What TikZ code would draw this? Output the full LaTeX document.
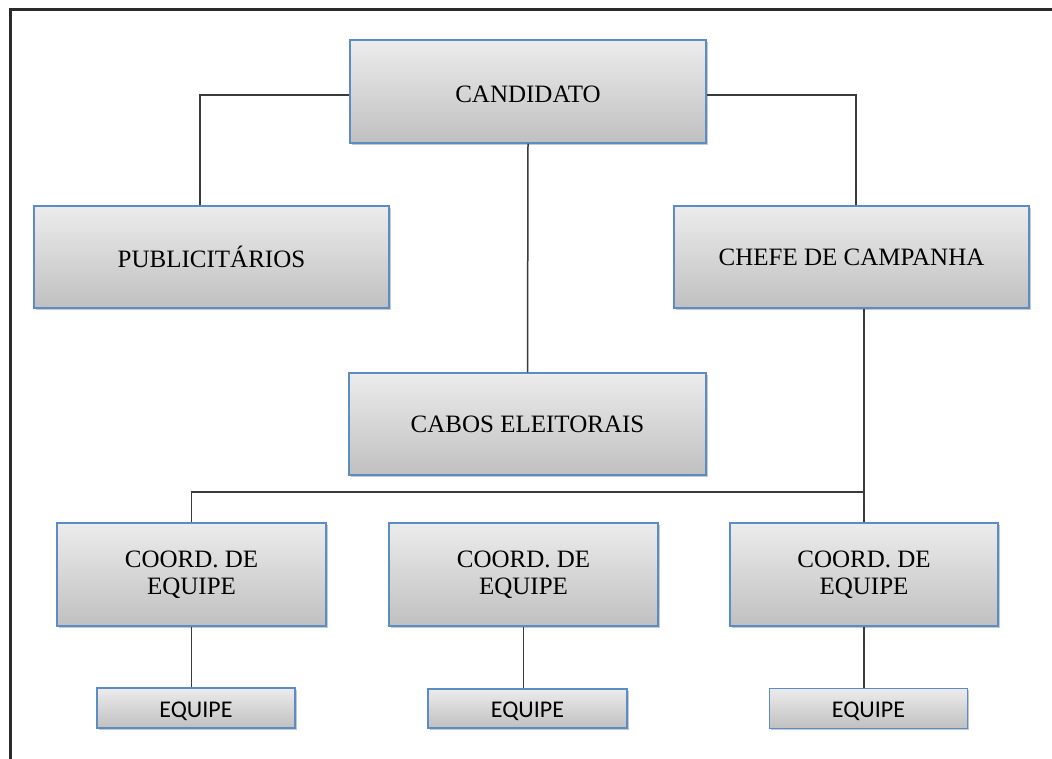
\documentclass[tikz,border=0pt]{standalone}
\usepackage{fontspec}
\setmainfont{Liberation Serif}
\newfontfamily\equipefont{Carlito}
\usetikzlibrary{shadows}
\definecolor{boxblue}{HTML}{5B8CC4}
\definecolor{boxtop}{HTML}{ECECEC}
\definecolor{boxbot}{HTML}{C0C0C0}
\definecolor{linegray}{HTML}{3A3A3A}
\definecolor{framegray}{HTML}{2A2A2A}
\newcommand{\lowered}[1]{\raisebox{-3pt}[\height][\depth]{#1}}
\begin{document}
\begin{tikzpicture}[x=1pt,y=-1pt,
  box/.style={draw=boxblue, line width=1.3pt, top color=boxtop, bottom color=boxbot,
    inner sep=0pt, align=center,
    drop shadow={shadow xshift=1.5pt,shadow yshift=-1.5pt,opacity=0.35,fill=black!60},
    font=\fontsize{25}{27}\selectfont},
  smallbox/.style={box, font=\equipefont\fontsize{24}{26}\selectfont},
  link/.style={draw=linegray, line width=1.5pt}]
\useasboundingbox (0,0) rectangle (1052,758);
\fill[white] (0,0) rectangle (1052,758);
\draw[line width=3pt, color=framegray] (10,760) -- (10,9) -- (1054,9);

\node[box, minimum width=356pt, minimum height=103pt] (cand) at (528,91.5) {\lowered{CANDIDATO}};
\node[box, minimum width=355pt, minimum height=102pt] (pub) at (211.5,257) {PUBLICITÁRIOS};
\node[box, minimum width=355pt, minimum height=102pt] (chefe) at (851.5,257) {CHEFE DE CAMPANHA};
\node[box, minimum width=357pt, minimum height=102pt] (cabos) at (527.5,424) {CABOS ELEITORAIS};

\node[box, minimum width=269pt, minimum height=103pt] (c1) at (191.5,574.5) {COORD. DE\\EQUIPE};
\node[box, minimum width=269pt, minimum height=103pt] (c2) at (523.5,574.5) {COORD. DE\\EQUIPE};
\node[box, minimum width=268pt, minimum height=103pt] (c3) at (864,574.5) {COORD. DE\\EQUIPE};

\node[smallbox, minimum width=198pt, minimum height=40pt] (e1) at (196,708) {\lowered{EQUIPE}};
\node[smallbox, minimum width=199pt, minimum height=39pt] (e2) at (527.5,708.5) {\lowered{EQUIPE}};
\node[smallbox, minimum width=198pt, minimum height=40pt] (e3) at (868.5,708.5) {\lowered{EQUIPE}};

\draw[link] ([yshift=-3.5pt]cand.west) -| ([xshift=-11.5pt]pub.north);
\draw[link] ([yshift=-3.5pt]cand.east) -| ([xshift=4.5pt]chefe.north);
\draw[link] (cand.south) -- (cabos.north);
\draw[link] (c3.north |- chefe.south) -- (c3.north);
\coordinate (bar) at (864,492);
\draw[link] (c1.north) |- (bar);
\draw[link] (c1.south) -- (c1.south |- e1.north);
\draw[link] (c2.south) -- (c2.south |- e2.north);
\draw[link] (c3.south) -- (c3.south |- e3.north);
\end{tikzpicture}
\end{document}
